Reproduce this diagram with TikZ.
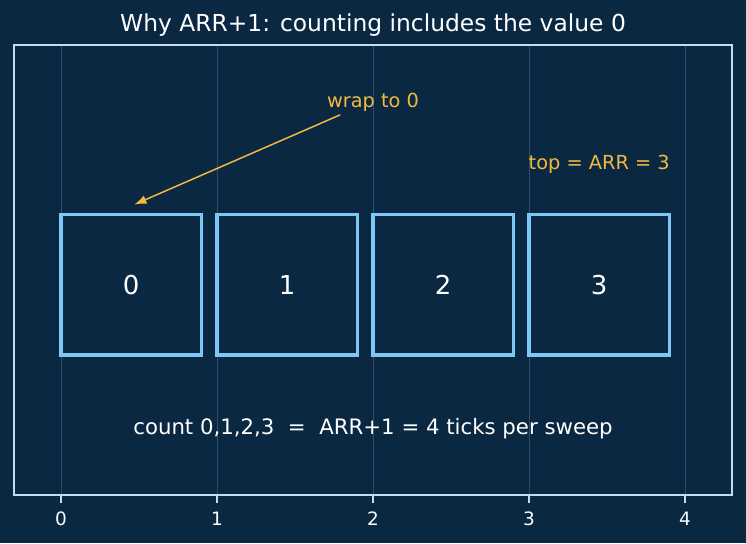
\documentclass[tikz,border=0pt]{standalone}
\usepackage{fontspec}
\setmainfont{DejaVu Sans}
\usetikzlibrary{arrows.meta,positioning}
\definecolor{bgnavy}{RGB}{11,40,66}
\definecolor{framelt}{RGB}{196,220,240}
\definecolor{cellblue}{RGB}{125,200,245}
\definecolor{annot}{RGB}{242,185,64}
\definecolor{gridnavy}{RGB}{48,78,108}
\tikzset{
  cell/.style={draw=cellblue, line width=1.8pt, minimum size=2.808cm, inner sep=0pt,
    text=white, font=\fontsize{14.8}{16}\selectfont},
  gridline/.style={gridnavy, line width=0.5pt},
  ticklbl/.style={text=white!92!framelt, font=\fontsize{10.5}{12}\selectfont},
}
\begin{document}
\begin{tikzpicture}[x=3.12cm, y=3.12cm, every node/.style={font=\fontsize{11}{13}\selectfont}]
\useasboundingbox[fill=bgnavy] (-0.391,-1.205) rectangle (4.391,2.276);
% grid and axes frame
\foreach \k in {0,...,4}
  \draw[gridline] (\k,-0.897) -- (\k,1.987);
\draw[framelt, line width=1.1pt] (-0.301,-0.897) rectangle (4.301,1.987);
\foreach \k in {0,...,4} {
  \draw[framelt, line width=1.1pt] (\k,-0.897) -- (\k,-0.948);
  \node[ticklbl] (tick\k) at (\k,-1.048) {\k};
}
\node[text=white, font=\fontsize{13.3}{15}\selectfont] (title) at (2.0,2.115)
  {Why ARR+1: counting includes the value 0};
% ---- the four counter states
\foreach \k in {0,...,3}
  \node[cell] (box\k) at (\k+0.45,0.45) {\k};
% ---- annotations
\node[text=annot] (wraplbl) at (2.0,1.622) {wrap to 0};
\coordinate (wrapfrom) at (1.79,1.54);
\draw[-{Latex[length=7pt,width=5pt]}, annot, line width=0.85pt] (wrapfrom) -- ([xshift=0.06cm,yshift=0.17cm]box0.north);
\node[text=annot] (toplbl) at (3.45,1.223) {top = ARR = 3};
\node[text=white, font=\fontsize{12.1}{14}\selectfont] (countlbl) at (2.0,-0.472)
  {count 0,1,2,3 \ =\ \ ARR+1 = 4 ticks per sweep};
\end{tikzpicture}
\end{document}
